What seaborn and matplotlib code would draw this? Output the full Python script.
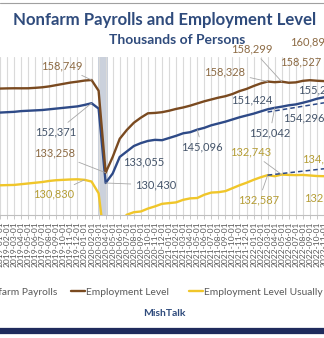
import numpy as np
import pandas as pd
import matplotlib
matplotlib.use("Agg")
import matplotlib.pyplot as plt
from matplotlib.lines import Line2D
import seaborn as sns

# ---------------- data (thousands of persons, monthly) ----------------
months = pd.date_range("2019-01-01", "2022-11-01", freq="MS")

payrolls = [149800, 149900, 150000, 150200, 150300, 150400, 150500, 150700,
            150900, 151100, 151300, 151500,
            151900, 152371, 150900, 130430, 133055, 137600, 139100, 140600,
            141400, 142000, 142300, 142200,
            142800, 143400, 144100, 144400, 145096, 145600, 146300, 146800,
            147300, 147900, 148500, 149000,
            149500, 150100, 150700, 151100, 151424, 151800, 152042, 152500,
            153000, 153600, 154000]

employment = [156400, 156450, 156480, 156470, 156480, 156600, 156750, 157000,
              157350, 157700, 158050, 158300,
              158600, 158749, 155800, 133258, 137600, 142600, 145000, 147000,
              148400, 149600, 149700, 149900,
              150300, 150800, 151200, 151700, 152300, 152900, 153400, 153900,
              154300, 154900, 155700, 156300,
              157100, 157800, 158328, 158150, 158299, 158000, 158100, 158527,
              158700, 158550, 158450]

full_time = [129800, 129850, 129900, 130100, 130300, 130500, 130700, 131000,
             131200, 131300, 131400, 131450,
             131300, 130830, 127600, 112000, 116500, 119500, 121700, 122400,
             122600, 123400, 124000, 124700,
             124900, 125100, 125800, 126200, 126300, 127200, 127800, 127900,
             128200, 129000, 129800, 130500,
             131300, 132000, 132587, 132300, 132743, 132650, 132600, 132650,
             132500, 132350, 132300]

# dashed trend lines (start / end month)
trend_months = ["2022-03-01", "2022-11-01"]
payroll_trend = [149950, 152480]
fulltime_trend = [132587, 134350]

series_names = ["Nonfarm Payrolls", "Employment Level",
                "Employment Level Usually Work Full Time"]
colors = ["#2E4A87", "#7A4A20", "#F0C62A"]

# ---------------- build frames ----------------
idx = np.arange(len(months))
df = pd.DataFrame({
    "idx": np.tile(idx, 3),
    "value": payrolls + employment + full_time,
    "series": np.repeat(series_names, len(months)),
})
pos = {m: i for i, m in enumerate(months)}
t_idx = [pos[pd.Timestamp(m)] for m in trend_months]
trend_df = pd.DataFrame({
    "idx": t_idx * 2,
    "value": payroll_trend + fulltime_trend,
    "grp": ["p", "p", "f", "f"],
})

# ---------------- figure ----------------
sns.set_theme(style="white")
plt.rcParams["font.family"] = ["Lato", "DejaVu Sans"]

W, H = 324, 338
fig = plt.figure(figsize=(W / 100, H / 100), dpi=100)
ax = fig.add_axes([0, (H - 215) / H, 1, (215 - 57) / H])

# recession shading
ax.axvspan(13.9, 15.4, color="#CBD1DC", zorder=0, lw=0)

# monthly vertical gridlines
for i in idx:
    ax.axvline(i, color="#DADADA", lw=0.8, zorder=0.5)

sns.lineplot(data=df, x="idx", y="value", hue="series", hue_order=series_names,
             palette=colors, linewidth=1.7, legend=False, ax=ax, zorder=3)
sns.lineplot(data=trend_df, x="idx", y="value", units="grp", estimator=None,
             color="#2E4A87", linewidth=1.1, linestyle=(0, (3, 2)),
             legend=False, ax=ax, zorder=4)

ax.set_xlim(1.30, 45.68)
ax.set_ylim(121630, 165080)
ax.set_xlabel("")
ax.set_ylabel("")
ax.set_yticks([])
ax.set_xticks(idx)
ax.set_xticklabels([m.strftime("%Y-%m-%d") for m in months], rotation=90,
                   fontsize=6.1, color="#595959")
ax.tick_params(axis="x", length=3, width=0.6, color="#BFBFBF", pad=1.5,
               bottom=True)
for s in ["top", "left", "right"]:
    ax.spines[s].set_visible(False)
ax.spines["bottom"].set_color("#BFBFBF")
ax.spines["bottom"].set_linewidth(0.8)


# ---------------- data labels ----------------
def label(text, x, y, color, point=None, ha="center"):
    # x, y: text centre in image pixels (top-left origin)
    kw = dict(xycoords="data", textcoords="figure pixels", fontsize=8,
              color=color, ha=ha, va="center", annotation_clip=False)
    if point is None:
        ax.annotate(text, xy=(0, 0), xytext=(x, H - y), **kw)
    else:
        ax.annotate(text, xy=point, xytext=(x, H - y),
                    arrowprops=dict(arrowstyle="-", color="#A6A6A6", lw=0.6,
                                    shrinkA=1, shrinkB=0), **kw)


c_brown, c_blue, c_gold = "#8C6A43", "#44546A", "#B59D34"
label("158,749", 62, 66, c_brown, (13, employment[13]))
label("152,371", 56, 132, c_blue, (13, payrolls[13]))
label("133,258", 55, 153, c_brown, (15, employment[15]))
label("130,830", 54, 194, c_gold, (12, full_time[12]))
label("133,055", 144, 162, c_blue)
label("130,430", 156, 185, c_blue, (15, payrolls[15]))
label("145,096", 202, 147, c_blue, (28, payrolls[28]))
label("152,042", 270, 133, c_blue, (39, payrolls[39]))
label("132,743", 251, 152, c_gold, (40, full_time[40]))
label("132,587", 259, 200, c_gold, (38, full_time[38]))
label("158,328", 225, 72, c_brown, (38, employment[38]))
label("158,299", 252, 49, c_brown, (40, employment[40]))
label("158,527", 301, 62, c_brown)
label("151,424", 252, 100, c_blue)
label("154,296", 304, 118, c_blue)
label("160,893", 290, 42, c_brown, ha="left")
label("155,238", 298, 90, c_blue, ha="left")
label("134,346", 302, 159, c_gold, ha="left")
label("132,409", 304, 198, c_gold, ha="left")

# ---------------- titles, legend, footer ----------------
title_c = "#2F4B7C"
fig.text(165 / W, 1 - 20 / H, "Nonfarm Payrolls and Employment Level",
         ha="center", va="center", fontsize=12.1, fontweight="bold",
         color=title_c)
fig.text(177 / W, 1 - 40 / H, "Thousands of Persons", ha="center",
         va="center", fontsize=10, fontweight="bold", color=title_c)

# legend entries placed one by one (Excel spacing is uneven)
leg_kw = dict(frameon=False, fontsize=7.4, handlelength=1.4,
              handletextpad=0.1, borderpad=0, borderaxespad=0,
              labelcolor="#595959")
anchors = [("center right", 57), ("center left", 71), ("center left", 189)]
for (loc, px), name, c in zip(anchors, series_names, colors):
    fig.legend([Line2D([], [], color=c, lw=1.7)], [name], loc=loc,
               bbox_to_anchor=(px / W, 1 - 292 / H), **leg_kw)

fig.text(164 / W, 1 - 313 / H, "MishTalk", ha="center", va="center",
         fontsize=7.5, fontweight="bold", color=title_c)

# frame lines
fig.add_artist(Line2D([0, 1], [1 - 3 / H, 1 - 3 / H], color="#A0A0A0",
                      lw=0.8))
fig.add_artist(Line2D([0, 1], [1 - 330.5 / H, 1 - 330.5 / H],
                      color="#1F2B5C", lw=4.5))

fig.savefig("out.png", dpi=100)
